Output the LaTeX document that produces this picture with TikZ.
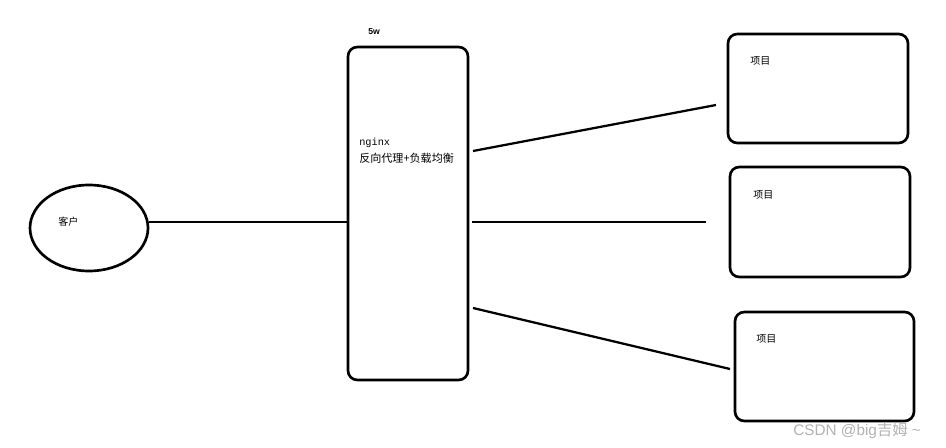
\documentclass[tikz,border=0pt]{standalone}
\usepackage{fontspec}
\setmainfont{Liberation Sans}
\newfontfamily\cjk{Noto Sans CJK SC}
\newfontfamily\monofnt{Liberation Mono}
\usetikzlibrary{shapes.geometric}
\begin{document}
\begin{tikzpicture}[x=0.75pt,y=-0.75pt,
  box/.style={draw=black,line width=2pt,rounded corners=7pt},
  link/.style={draw=black,line width=1.7pt},
  lbl/.style={inner sep=0pt,anchor=west,font=\cjk\fontsize{7.5pt}{9pt}\selectfont}]
\useasboundingbox (0,0) rectangle (946,448);
% client ellipse
\node[ellipse,draw=black,line width=2pt,minimum width=118*0.75pt,minimum height=86*0.75pt,inner sep=0pt] (client) at (89,228) {};
\node[lbl] (clienttxt) at (58,222) {客户};
% nginx box
\draw[box] (348,47) rectangle (468,380);
\coordinate (nginxW) at (348,222);
\node[inner sep=0pt,anchor=west,font=\bfseries\fontsize{6.5pt}{8pt}\selectfont] (fivew) at (368,32) {5w};
\node[inner sep=0pt,anchor=west,font=\monofnt\fontsize{7.7pt}{9pt}\selectfont] (nginxtxt) at (359,143) {nginx};
\node[inner sep=0pt,anchor=west,font=\cjk\fontsize{8.3pt}{10pt}\selectfont] (proxytxt) at (359,158) {反向代理+负载均衡};
% project boxes
\draw[box] (728,34) rectangle (908,143);
\node[lbl] (p1) at (750,61) {项目};
\draw[box] (730,167) rectangle (910,277);
\node[lbl] (p2) at (753,195) {项目};
\draw[box] (735,312) rectangle (914,421);
\node[lbl] (p3) at (756,339) {项目};
% connectors
\coordinate (s1) at (473,151);
\coordinate (e1) at (716,105);
\coordinate (s2) at (472,222);
\coordinate (e2) at (706,222);
\coordinate (s3) at (473,308);
\coordinate (e3) at (730,369);
\draw[link] (nginxW -| client.east) -- (nginxW);
\draw[link] (s1) -- (e1);
\draw[link] (s2) -- (e2);
\draw[link] (s3) -- (e3);
% watermark
\node[inner sep=0pt,anchor=west,text=black!30,font=\fontsize{11.5pt}{13pt}\selectfont] (wm) at (793,431) {CSDN @big{\cjk 吉姆} \textasciitilde};
\end{tikzpicture}
\end{document}
